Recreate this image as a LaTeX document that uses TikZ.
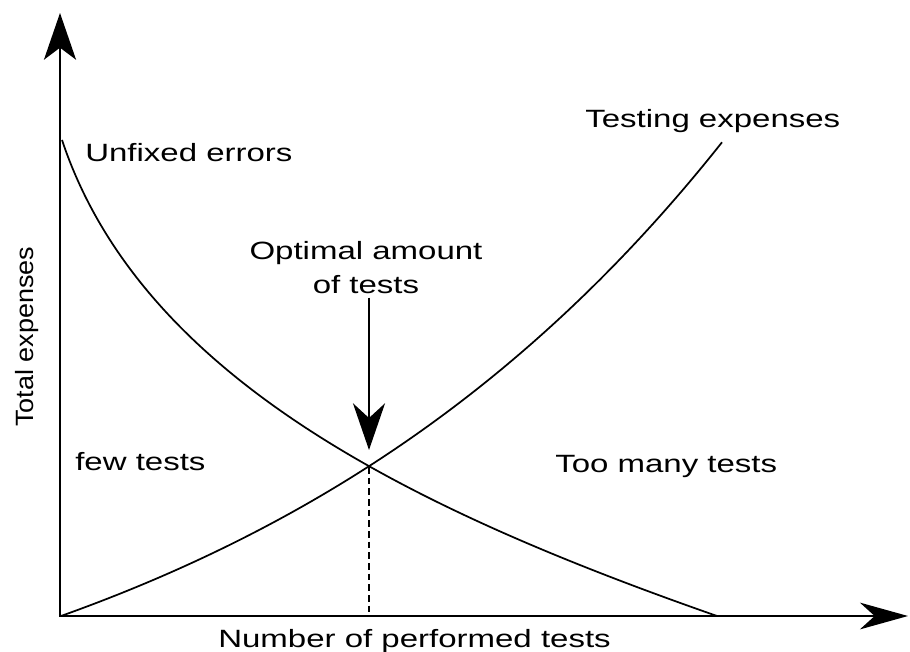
\documentclass[tikz,border=0pt]{standalone}
\usepackage{graphicx}
\usepackage{fontspec}
\setmainfont{Liberation Sans}
\usetikzlibrary{arrows.meta,calc}
\newcommand{\stretchlab}[1]{\scalebox{1.32}[1]{#1}}
\begin{document}
\begin{tikzpicture}[x=0.75pt,y=-0.75pt,
  lbl/.style={font=\fontsize{18.75pt}{22pt}\selectfont, inner sep=0pt, anchor=base west},
  axisline/.style={line width=2pt, line join=miter,
    {Stealth[length=35pt,width=24pt,inset=9pt]}-{Stealth[length=36pt,width=20pt,inset=11pt]}},
  curveline/.style={line width=1.3pt},
  bigarrow/.style={line width=2pt, -{Stealth[length=35pt,width=24pt,inset=11pt]}},
  dropline/.style={line width=1pt, dash pattern=on 5pt off 3pt}]
\useasboundingbox (0,0) rectangle (910,652);

% axes
\coordinate (O) at (60,616);
\coordinate (ytip) at (60,13);
\coordinate (xtip) at (908,616);
\draw[axisline] (ytip) -- (O) -- (xtip);

% curves
\draw[curveline] plot[domain=0:661, samples=120] ({61+\x},{616-187.4*(exp(0.0019*\x)-1)});
\coordinate (errstart) at (62,140);
\coordinate (errend) at (717,616);
\draw[curveline] (errstart) .. controls (142,380) and (417,511) .. (errend);

% labels
\node[lbl] (unfixed) at (85,162) {\stretchlab{Unfixed errors}};
\node[lbl] (testing) at (585,128) {\stretchlab{Testing expenses}};
\node[lbl, anchor=base] (opt1) at (366,260) {\stretchlab{Optimal amount}};
\node[lbl, anchor=base] (opt2) at (366,293) {\stretchlab{of tests}};
\node[lbl] (few) at (75,470) {\stretchlab{few tests}};
\node[lbl] (many) at (555,472) {\stretchlab{Too many tests}};
\node[lbl] (xlabel) at (218,647) {\stretchlab{Number of performed tests}};
\node[lbl, rotate=90] (ylabel) at (33,427) {\scalebox{1.08}[1]{Total expenses}};

% optimum
\coordinate (cross) at (369,467);
\draw[dropline] (cross) -- (cross |- O);
\draw[bigarrow, shorten <=3pt] (opt2.south -| cross) -- ($(cross)+(0,-17)$);
\end{tikzpicture}
\end{document}
